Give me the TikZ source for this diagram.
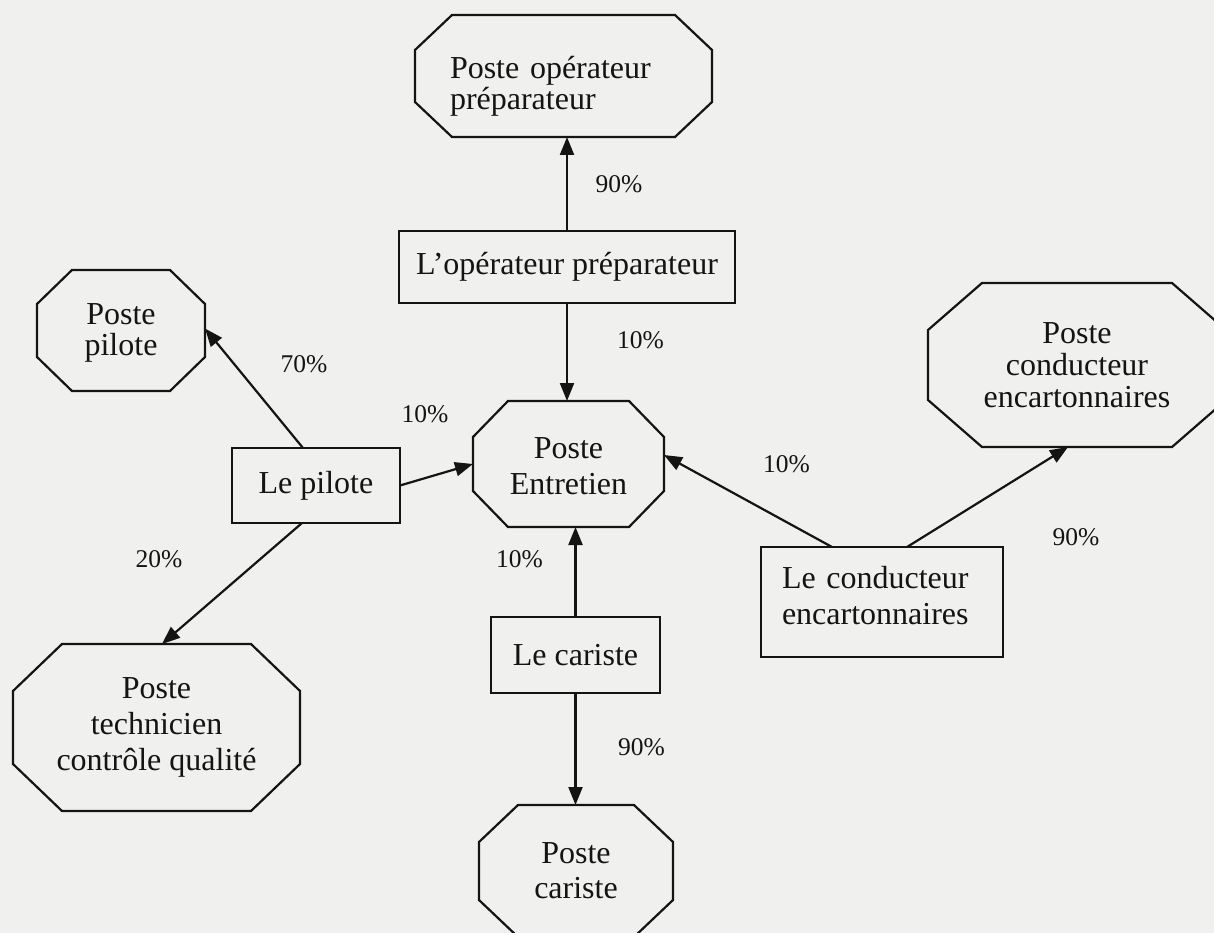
\documentclass[tikz,border=0pt]{standalone}
\usepackage{fontspec}
\setmainfont{Liberation Serif}
\usetikzlibrary{arrows.meta}

\definecolor{paper}{RGB}{240,240,238}
\definecolor{ink}{RGB}{20,20,20}

\newcommand\boxfont{\fontsize{32}{34}\selectfont}
\newcommand\pctfont{\fontsize{25.5}{28}\selectfont}

\tikzset{
  boxline/.style={draw=ink, line width=2.2pt, line join=miter},
  box/.style={rectangle, boxline, inner sep=0pt, outer sep=0pt,
              text=ink, font=\boxfont, align=center},
  octo/.style={rectangle, draw=none, inner sep=0pt, outer sep=0pt,
               text=ink, font=\boxfont, align=center},
  pct/.style={anchor=base, text=ink, font=\pctfont, inner sep=0pt},
  flow/.style={draw=ink, line width=2.2pt, -{Triangle[length=18pt,width=14pt]}},
}

% octagon outline around a rectangular node: #2 = horizontal cut, #3 = vertical cut
\newcommand\octoline[3]{%
  \draw[boxline] ([xshift=#2]#1.north west) -- ([xshift=-#2]#1.north east)
    -- ([yshift=-#3]#1.north east) -- ([yshift=#3]#1.south east)
    -- ([xshift=-#2]#1.south east) -- ([xshift=#2]#1.south west)
    -- ([yshift=#3]#1.south west) -- ([yshift=-#3]#1.north west) -- cycle;}

\begin{document}
\begin{tikzpicture}[x=1pt,y=-1pt]
\fill[paper] (0,0) rectangle (1214,933);
\useasboundingbox (0,0) rectangle (1214,933);

% workstations (octagons)
\node[octo, minimum width=297pt, minimum height=122pt, text width=227pt,
      align=left, text height=42pt, font=\fontsize{32}{31}\selectfont] (pop) at (563.5,76)
      {Poste opérateur\\préparateur};
\node[octo, minimum width=168pt, minimum height=121pt, text height=56pt,
      font=\fontsize{32}{31}\selectfont] (ppil) at (121,330.5) {Poste\\pilote};
\node[octo, minimum width=191pt, minimum height=126pt, text height=62pt,
      font=\fontsize{32}{36}\selectfont] (pent) at (568.5,464) {Poste\\Entretien};
\node[octo, minimum width=298pt, minimum height=164pt,
      font=\fontsize{32}{32}\selectfont] (pcond) at (1077,365)
      {Poste\\conducteur\\encartonnaires};
\node[octo, minimum width=194pt, minimum height=132pt,
      font=\fontsize{32}{35}\selectfont] (pcar) at (576,871) {Poste\\cariste};
\node[octo, minimum width=287pt, minimum height=167pt,
      font=\fontsize{32}{36}\selectfont] (ptech) at (156.5,727.5)
      {Poste\\technicien\\contrôle qualité};

\octoline{pop}{37pt}{35pt}
\octoline{ppil}{35pt}{34pt}
\octoline{pent}{35pt}{36pt}
\octoline{pcond}{54pt}{47pt}
\octoline{pcar}{39pt}{37pt}
\octoline{ptech}{49pt}{47pt}

% operators (rectangles)
\node[box, minimum width=336pt, minimum height=72pt] (op) at (567,267)
      {L’opérateur préparateur};
\node[box, minimum width=168pt, minimum height=75pt] (pil) at (316,485.5)
      {Le pilote};
\node[box, minimum width=242pt, minimum height=110pt, text width=200pt,
      align=left, text height=10pt, font=\fontsize{32}{36}\selectfont] (cond) at (882,602)
      {Le conducteur\\encartonnaires};
\node[box, minimum width=169pt, minimum height=76pt] (car) at (575.5,655)
      {Le cariste};

% time shares
\draw[flow] (op.north) -- (op.north |- pop.south);
\draw[flow] (op.south) -- (op.south |- pent.north);
\draw[flow] ([xshift=-13pt]pil.north) -- ([yshift=2pt]ppil.east);
\draw[flow] (pil.east) -- (pent.west);
\draw[flow] ([xshift=-14pt]pil.south) -- ([xshift=5.5pt]ptech.north);
\draw[flow] ([xshift=-50pt]cond.north) -- ([yshift=9pt]pent.east);
\draw[flow] ([xshift=25pt]cond.north) -- ([xshift=-9pt]pcond.south);
\draw[flow] (car.north) -- (car.north |- pent.south);
\draw[flow] (car.south) -- (car.south |- pcar.north);

\node[pct] (l1) at (619,193) {90\%};
\node[pct] (l2) at (640.5,348) {10\%};
\node[pct] (l3) at (304,372) {70\%};
\node[pct] (l4) at (425,422) {10\%};
\node[pct] (l5) at (786.5,472) {10\%};
\node[pct] (l6) at (1076,545) {90\%};
\node[pct] (l7) at (159,567) {20\%};
\node[pct] (l8) at (519.5,567) {10\%};
\node[pct] (l9) at (641.5,755) {90\%};
\end{tikzpicture}
\end{document}
